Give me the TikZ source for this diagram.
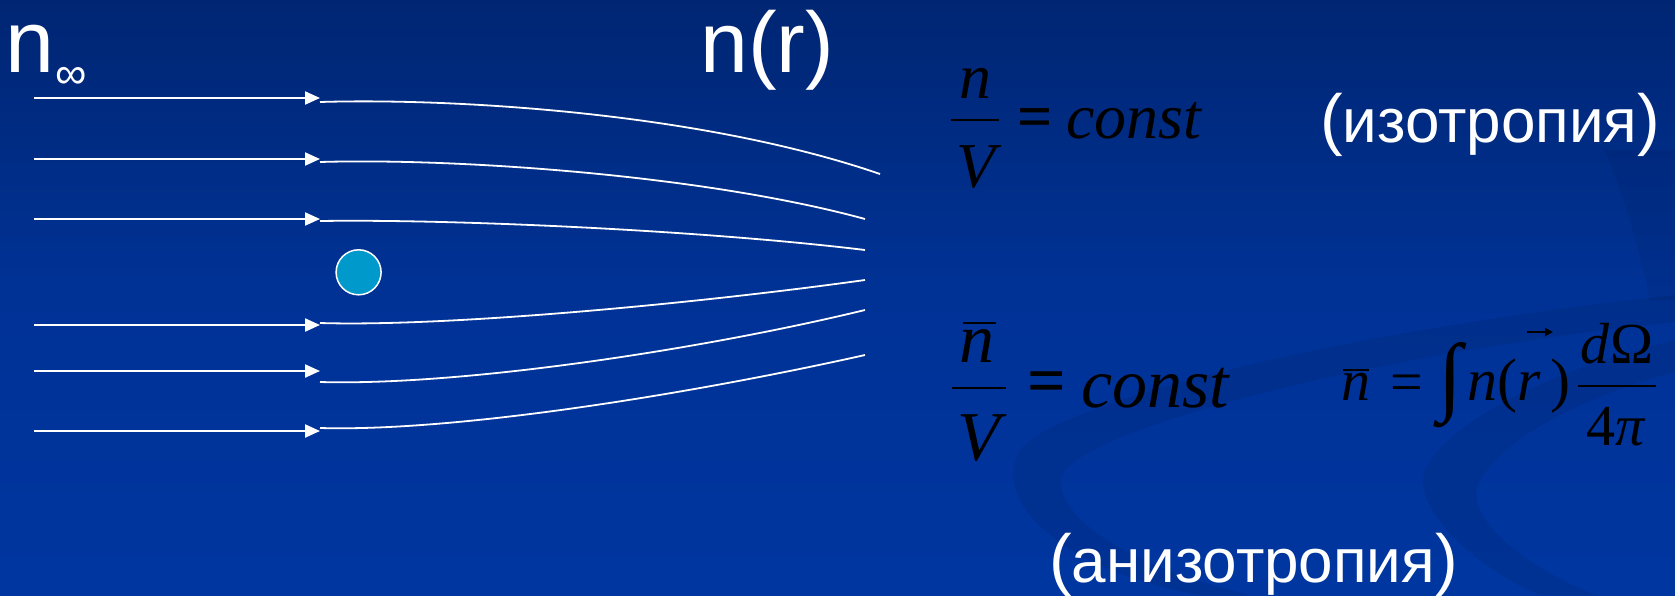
\documentclass[tikz,border=0pt]{standalone}
\usepackage{fontspec}
\usepackage{graphicx}
\usetikzlibrary{arrows.meta}
\newfontfamily\tms{Liberation Serif}
\newfontfamily\ars{Liberation Sans}
\newcommand{\bigparL}{{\fontsize{68}{70}\selectfont(}}
\newcommand{\bigparR}{{\fontsize{68}{70}\selectfont)}}
\definecolor{bgtop}{RGB}{0,38,115}
\definecolor{bgmid}{RGB}{0,50,150}
\definecolor{bgbot}{RGB}{0,54,160}
\definecolor{ball}{RGB}{0,153,204}
\begin{document}
\begin{tikzpicture}[x=1pt,y=-1pt,
  flowarrow/.style={white, line width=2.2pt, -{Triangle[length=15pt,width=13pt]}},
  streamline/.style={white, line width=1.8pt},
  lab/.style={text=white, inner sep=0pt},
  mth/.style={text=black, inner sep=0pt},
  fracbar/.style={black, line width=2.4pt},
  swoosh/.style={fill=black, opacity=0.07, draw=none}]
% background
\fill[top color=bgtop, bottom color=bgbot, middle color=bgmid] (0,0) rectangle (1675,595);
\useasboundingbox (0,0) rectangle (1675,595);
% decorative swooshes
\fill[swoosh] (1675,295) .. controls (1350,330) and (1060,400) .. (1020,450)
  .. controls (990,500) and (1060,570) .. (1200,595) -- (1250,595)
  .. controls (1100,560) and (1045,500) .. (1065,470)
  .. controls (1110,420) and (1400,350) .. (1675,322) -- cycle;
\fill[swoosh] (1675,340) .. controls (1550,370) and (1450,420) .. (1425,470)
  .. controls (1410,510) and (1480,570) .. (1540,595) -- (1595,595)
  .. controls (1510,560) and (1462,510) .. (1480,480)
  .. controls (1510,430) and (1600,392) .. (1675,372) -- cycle;
\fill[swoosh, opacity=0.05] (1605,150) .. controls (1625,200) and (1640,250) .. (1650,300) -- (1675,300) -- (1675,150) -- cycle;
% incoming arrows
\foreach \i/\y in {1/98, 2/159, 3/219, 4/325, 5/371, 6/431}{
  \coordinate (a\i) at (34,\y);
  \coordinate (b\i) at (320,\y);
  \draw[flowarrow] (a\i) -- (b\i);
}
% streamlines
\coordinate (s1) at (320,102); \coordinate (e1) at (880,174);
\coordinate (s2) at (320,162); \coordinate (e2) at (865,219);
\coordinate (s3) at (320,221); \coordinate (e3) at (865,250);
\coordinate (s4) at (320,323); \coordinate (e4) at (865,280);
\coordinate (s5) at (320,382); \coordinate (e5) at (865,310);
\coordinate (s6) at (320,428); \coordinate (e6) at (865,355);
\draw[streamline] (s1) .. controls (450,98) and (700,112) .. (e1);
\draw[streamline] (s2) .. controls (450,158) and (700,174) .. (e2);
\draw[streamline] (s3) .. controls (450,219) and (700,230) .. (e3);
\draw[streamline] (s4) .. controls (450,327) and (700,303) .. (e4);
\draw[streamline] (s5) .. controls (460,386) and (700,350) .. (e5);
\draw[streamline] (s6) .. controls (460,432) and (700,392) .. (e6);
% obstacle
\node[circle, fill=ball, draw=white, line width=1.5pt, minimum size=45pt, inner sep=0pt] (ball) at (358.6,272.3) {};
% labels
\node[lab, anchor=base west, font=\ars\fontsize{88}{90}\selectfont] (ninf) at (5,72) {n};
\node[lab, anchor=base west, font=\ars\fontsize{44}{46}\selectfont] (inf) at (55,88) {∞};
\node[lab, anchor=base west, font=\ars\fontsize{86}{90}\selectfont] (nr) at (700,72) {n(r)};
\node[lab, anchor=base west, font=\ars\fontsize{62}{64}\selectfont] (iso) at (1320,142) {\bigparL изотропия\bigparR};
\node[lab, anchor=base west, font=\ars\fontsize{62}{64}\selectfont] (aniso) at (1049,582) {\bigparL анизотропия\bigparR};
% formula 1
\node[mth, anchor=base, font=\tms\itshape\fontsize{64}{66}\selectfont] (n1) at (975,98) {n};
\draw[fracbar] (951,120) -- (999,120);
\node[mth, anchor=base, font=\tms\itshape\fontsize{64}{66}\selectfont] (V1) at (976,187) {V};
\node[mth, anchor=base, font=\tms\bfseries\fontsize{62}{66}\selectfont] (eq1) at (1035,137) {=};
\node[mth, anchor=base west, font=\tms\itshape\fontsize{64}{66}\selectfont] (c1) at (1066,138) {const};
% formula 2
\node[mth, anchor=base, font=\tms\itshape\fontsize{70}{72}\selectfont] (n2) at (977,362) {n};
\draw[fracbar] (963,323) -- (996,323);
\draw[fracbar] (952,388) -- (1006,388);
\node[mth, anchor=base, font=\tms\itshape\fontsize{70}{72}\selectfont] (V2) at (979,460) {V};
\node[mth, anchor=base, font=\tms\bfseries\fontsize{68}{72}\selectfont] (eq2) at (1047,403) {=};
\node[mth, anchor=base west, font=\tms\itshape\fontsize{70}{72}\selectfont] (c2) at (1081,407) {const};
% formula 3
\node[mth, anchor=base, font=\tms\itshape\fontsize{58}{60}\selectfont] (n3) at (1356,400) {n};
\draw[fracbar, line width=2pt] (1343,370) -- (1369,370);
\node[mth, anchor=base, font=\tms\fontsize{58}{60}\selectfont] (eq3) at (1407,401) {=};
\node[mth, anchor=center, font=\tms\fontsize{58}{60}\selectfont] (int) at (1450,385) {\scalebox{1.5}[1.5]{∫}};
\node[mth, anchor=base west, font=\tms\fontsize{60}{62}\selectfont] (nr3) at (1467,400) {\textit{n}(\textit{r\,})};
\draw[black, line width=2.2pt, -{Triangle[length=8pt,width=8pt]}] (1527,332) -- (1553,332);
\draw[fracbar] (1578,386) -- (1656,386);
\node[mth, anchor=base, font=\tms\fontsize{58}{60}\selectfont] (dO) at (1617,363) {\textit{d}Ω};
\node[mth, anchor=base, font=\tms\fontsize{58}{60}\selectfont] (fp) at (1616,445) {4\textit{π}};
\end{tikzpicture}
\end{document}
